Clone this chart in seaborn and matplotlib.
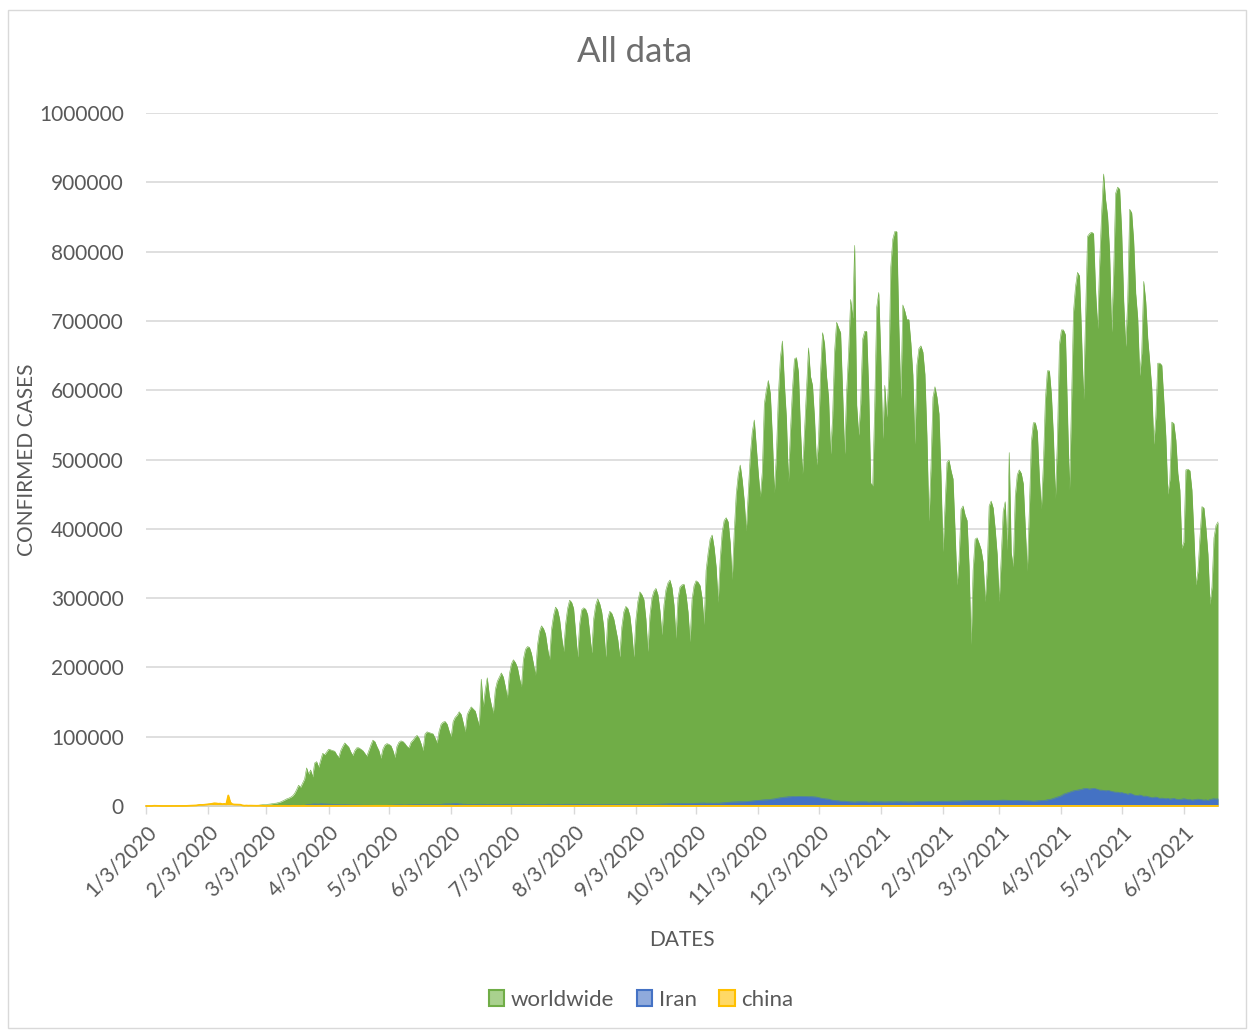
import numpy as np
import pandas as pd
import matplotlib
matplotlib.use("Agg")
import matplotlib.pyplot as plt
from matplotlib.patches import Patch, Rectangle
import seaborn as sns

# ---------------- data (daily confirmed cases, thousands) ----------------
start_date = "2020-01-03"
series_names = ["worldwide", "Iran", "china"]

worldwide_k = (
    # Jan 2020 (3..31)
    [0.5, 0.3, 0.2, 0, 0.3, 0.2, 0, 0, 0, 0.6, 0.5, 0.3, 0, 0.1, 0.1, 0.1, 0.1,
     0.1, 0.2, 0.2, 0.1, 0.3, 0.3, 0.5, 0.7, 0.8, 1.3, 1.7, 1.6]
    # Feb 2020
    + [1.8, 2.1, 2.6, 2.8, 3.2, 3.9, 3.7, 3.2, 3.4, 2.7, 3.0, 2.5, 15.2, 5.1, 2.6,
       2.1, 2.0, 1.9, 1.8, 0.9, 0.5, 0.7, 0.6, 0.7, 0.8, 0.8, 0.8, 1.0, 1.4]
    # Mar 2020
    + [1.8, 2.0, 2.3, 2.6, 2.9, 3.4, 3.9, 4.2, 5.0, 5.8, 7.2, 8.6, 10.2, 11.2, 12.6,
       14.5, 18.0, 23.5, 30.0, 27.0, 33.0, 39.0, 55.0, 46.0, 52.0, 42.0, 62.0, 64.0,
       56.0, 66.0, 76.0]
    # Apr 2020
    + [74, 78, 82, 81, 80, 79, 74, 70, 80, 86, 91, 88, 85, 78, 73, 80, 84, 84, 82, 80,
       76, 72, 80, 88, 95, 93, 86, 80, 69, 82]
    # May 2020
    + [88, 90, 89, 87, 80, 70, 86, 92, 94, 93, 90, 86, 84, 92, 95, 99, 102, 98, 90, 80,
       104, 107, 106, 105, 104, 98, 91, 108, 118, 121, 122]
    # Jun 2020
    + [118, 108, 100, 122, 128, 131, 136, 132, 120, 107, 132, 138, 143, 140, 137, 126,
       116, 183, 143, 168, 185, 160, 146, 134, 168, 180, 186, 192, 186, 172]
    # Jul 2020
    + [156, 190, 205, 211, 207, 200, 185, 172, 212, 226, 230, 229, 220, 205, 189, 232,
       252, 260, 256, 248, 228, 211, 255, 275, 287, 283, 270, 245, 223, 262, 285]
    # Aug 2020
    + [297, 294, 285, 250, 215, 262, 283, 286, 284, 276, 250, 221, 270, 290, 299, 292,
       280, 258, 215, 270, 281, 278, 270, 255, 240, 215, 258, 280, 288, 285, 275]
    # Sep 2020
    + [250, 215, 268, 295, 309, 305, 298, 270, 223, 275, 300, 310, 314, 305, 282, 247,
       290, 312, 322, 326, 315, 290, 242, 300, 316, 319, 320, 305, 280, 237]
    # Oct 2020
    + [298, 318, 325, 323, 318, 300, 262, 340, 365, 385, 391, 373, 345, 294, 355, 395,
       412, 416, 410, 380, 327, 395, 450, 478, 492, 470, 440, 397, 452, 506, 540]
    # Nov 2020
    + [557, 519, 480, 446, 482, 580, 600, 614, 595, 533, 452, 506, 593, 647, 671, 609,
       560, 468, 540, 600, 645, 647, 626, 544, 479, 540, 600, 661, 620, 607]
    # Dec 2020
    + [560, 492, 527, 625, 683, 667, 620, 590, 508, 560, 656, 698, 690, 683, 598, 508,
       598, 656, 731, 704, 809, 579, 535, 581, 674, 685, 685, 600, 466, 462, 579]
    # Jan 2021
    + [720, 741, 651, 530, 607, 561, 620, 778, 818, 829, 829, 694, 588, 723, 714, 702,
       702, 668, 622, 522, 636, 660, 664, 655, 623, 534, 411, 488, 590, 605, 590]
    # Feb 2021
    + [566, 477, 367, 433, 496, 499, 484, 472, 398, 319, 355, 428, 433, 420, 412, 346,
       233, 340, 385, 387, 379, 370, 352, 295, 341, 433, 440, 430]
    # Mar 2021
    + [400, 363, 295, 358, 425, 439, 369, 510, 366, 345, 447, 478, 485, 480, 465, 402,
       339, 426, 525, 553, 553, 540, 475, 429, 492, 586, 628, 628, 594, 534, 444]
    # Apr 2021
    + [528, 666, 687, 687, 680, 570, 456, 579, 713, 749, 770, 765, 681, 586, 704, 822,
       826, 828, 826, 745, 689, 780, 854, 912, 875, 851, 800, 684, 768, 884]
    # May 2021
    + [893, 890, 830, 730, 663, 728, 861, 856, 815, 740, 704, 621, 654, 757, 728, 675,
       640, 603, 522, 561, 639, 639, 636, 586, 534, 450, 471, 554, 552, 528, 480]
    # Jun 2021 (1..20)
    + [456, 372, 381, 485, 486, 484, 456, 391, 319, 339, 387, 432, 430, 400, 363, 291,
       316, 387, 405, 410]
)

iran_k = (
    [0, 0, 0, 0, 0, 0, 0, 0, 0, 0, 0, 0, 0, 0, 0, 0, 0, 0, 0, 0, 0, 0, 0, 0, 0, 0, 0, 0, 0]
    + [0, 0, 0, 0, 0, 0, 0, 0, 0, 0, 0, 0, 0, 0, 0, 0, 0, 0, 0, 0, 0, 0, 0, 0, 0, 0.1,
       0.1, 0.1, 0.2]
    + [0.2, 0.4, 0.5, 0.6, 0.6, 0.6, 0.7, 0.6, 0.9, 1.0, 1.1, 1.0, 1.2, 1.4, 1.2, 1.0,
       1.0, 1.2, 1.0, 1.3, 1.0, 1.0, 1.8, 2.2, 2.4, 2.9, 3.0, 2.9, 2.7, 3.2, 3.1]
    + [2.9, 2.9, 2.7, 2.6, 2.5, 2.3, 2.3, 2.1, 2.0, 2.0, 1.9, 1.8, 1.7, 1.6, 1.5, 1.6,
       1.5, 1.4, 1.3, 1.3, 1.2, 1.3, 1.2, 1.1, 1.0, 1.0, 1.0, 1.0, 1.0, 1.0]
    + [1.0, 1.0, 1.2, 1.2, 1.3, 1.5, 1.5, 1.6, 1.7, 1.6, 1.5, 1.7, 1.8, 1.7, 1.8, 2.0,
       2.1, 2.3, 2.2, 2.1, 2.1, 2.0, 2.1, 2.2, 2.1, 2.2, 2.2, 2.3, 2.4, 2.8, 3.0]
    + [3.0, 3.0, 3.1, 3.3, 3.6, 3.5, 3.0, 3.0, 2.6, 2.7, 2.4, 2.5, 2.5, 2.4, 2.5, 2.6,
       2.6, 2.6, 2.6, 2.5, 2.4, 2.5, 2.6, 2.6, 2.5, 2.6, 2.5, 2.4, 2.5, 2.5]
    + [2.6, 2.5, 2.6, 2.5, 2.6, 2.6, 2.5, 2.5, 2.6, 2.4, 2.3, 2.4, 2.4, 2.5, 2.5, 2.3,
       2.3, 2.4, 2.3, 2.4, 2.6, 2.6, 2.6, 2.5, 2.4, 2.5, 2.3, 2.4, 2.6, 2.5, 2.6]
    + [2.5, 2.6, 2.5, 2.5, 2.6, 2.4, 2.5, 2.4, 2.3, 2.4, 2.2, 2.4, 2.4, 2.2, 2.1, 2.0,
       2.0, 2.1, 2.2, 2.2, 2.0, 1.9, 1.9, 2.0, 2.0, 2.0, 1.9, 1.9, 2.0, 2.0, 2.0]
    + [2.0, 2.1, 2.0, 2.0, 2.1, 2.1, 2.1, 2.2, 2.2, 2.3, 2.3, 2.4, 2.5, 2.6, 2.7, 2.9,
       3.0, 3.0, 3.2, 3.2, 3.3, 3.4, 3.4, 3.5, 3.5, 3.6, 3.6, 3.6, 3.5, 3.6]
    + [3.7, 3.8, 3.9, 4.0, 4.2, 4.1, 4.4, 4.0, 4.2, 4.1, 4.0, 4.0, 4.2, 4.0, 4.3, 4.5,
       4.7, 5.0, 5.3, 5.6, 5.8, 5.9, 5.9, 6.0, 6.1, 6.2, 6.3, 6.4, 6.7, 7.0, 7.4]
    + [7.7, 8.0, 8.3, 8.5, 8.7, 8.9, 9.0, 9.2, 9.5, 10.0, 10.3, 11.0, 11.5, 12.0, 12.4,
       12.8, 13.0, 13.4, 13.4, 13.9, 13.6, 13.8, 14.0, 13.9, 13.8, 13.8, 13.7, 13.5,
       13.6, 13.4]
    + [13.2, 13.0, 12.2, 11.5, 11.0, 10.5, 10.2, 10.0, 9.0, 8.4, 8.0, 7.6, 7.6, 7.0,
       7.0, 7.0, 6.6, 6.3, 6.0, 6.0, 5.7, 6.1, 6.1, 6.1, 6.2, 6.1, 6.1, 5.6, 6.0, 6.1, 6.2]
    + [6.0, 6.1, 6.1, 6.0, 5.9, 6.0, 6.1, 6.0, 6.0, 6.1, 6.2, 6.1, 6.2, 6.0, 6.1, 6.0,
       5.9, 6.1, 6.0, 6.3, 6.4, 6.6, 6.3, 6.5, 6.4, 6.6, 6.7, 6.5, 6.4, 6.5, 6.7]
    + [6.8, 6.9, 7.0, 6.8, 6.9, 7.0, 7.1, 7.2, 7.0, 7.1, 7.0, 7.4, 7.5, 7.6, 7.7, 7.8,
       7.7, 7.8, 8.0, 8.0, 8.1, 7.9, 8.0, 8.1, 8.0, 8.0, 8.2, 8.1]
    + [8.0, 8.2, 8.3, 8.4, 8.5, 8.4, 8.3, 8.1, 8.0, 7.9, 8.0, 8.2, 8.0, 7.9, 7.8, 7.6,
       7.7, 7.6, 7.3, 7.0, 7.2, 7.5, 7.7, 8.0, 8.1, 8.3, 9.0, 9.5, 10.0, 11.0, 12.0]
    + [13.0, 14.0, 15.0, 17.0, 18.0, 19.0, 20.0, 21.0, 22.0, 22.5, 23.0, 23.5, 24.0,
       25.0, 25.5, 25.0, 24.5, 25.0, 25.5, 25.0, 24.0, 23.0, 23.0, 22.5, 22.0, 22.5,
       22.0, 21.0, 20.5, 20.0]
    + [20.0, 19.0, 19.5, 18.5, 18.0, 17.0, 18.0, 17.5, 16.0, 15.5, 15.0, 16.0, 15.0,
       14.0, 14.5, 13.5, 13.0, 12.0, 12.5, 13.0, 12.0, 11.0, 11.5, 11.0, 10.5, 11.0,
       10.0, 10.5, 11.0, 10.0, 9.5]
    + [9.5, 10.0, 10.5, 10.0, 9.0, 9.5, 8.5, 9.0, 9.5, 10.0, 9.5, 9.0, 8.5, 9.0, 8.0,
       9.5, 10.0, 10.5, 10.0, 10.5]
)

china_k = (
    [0, 0, 0, 0, 0.3, 0.2, 0, 0, 0, 0, 0, 0, 0, 0, 0, 0, 0,
     0.08, 0.15, 0.15, 0.1, 0.25, 0.3, 0.45, 0.7, 0.8, 1.3, 1.6, 1.5]
    + [1.7, 2.1, 2.6, 2.8, 3.2, 3.9, 3.7, 3.2, 3.4, 2.7, 3.0, 2.5, 15.2, 5.1, 2.6, 2.1,
       2.0, 1.9, 1.8, 0.9, 0.4, 0.6, 0.4, 0.5, 0.4, 0.4, 0.3, 0.4, 0.4]
    + [0.2, 0.1, 0.1, 0.1, 0.1, 0.1, 0.1, 0.05, 0.05, 0.04, 0.02, 0.03, 0.02, 0.02,
       0.03, 0.02, 0.03, 0.04, 0.05, 0.06, 0.1, 0.05, 0.08, 0.06, 0.1, 0.07, 0.1, 0.06,
       0.08, 0.05, 0.04]
    + [0.03, 0.04, 0.03, 0.03, 0.03, 0.04, 0.03, 0.06, 0.06, 0.04, 0.10, 0.05, 0.10,
       0.09, 0.05, 0.04, 0.03, 0.02, 0.03, 0.02, 0.01, 0.01, 0.02, 0.01, 0.01, 0.01,
       0.01, 0.01, 0.01, 0.01]
    + [0.01, 0.01, 0.01, 0.02, 0.01, 0.01, 0.01, 0.01, 0.01, 0.02, 0.02, 0.01, 0.01,
       0.01, 0.01, 0.01, 0.01, 0.01, 0.01, 0.01, 0.01, 0.01, 0.01, 0.01, 0.01, 0.01,
       0.01, 0.01, 0.01, 0.01, 0.01]
    + [0.01, 0.01, 0.01, 0.01, 0.01, 0.01, 0.01, 0.01, 0.01, 0.01, 0.01, 0.01, 0.04,
       0.06, 0.05, 0.04, 0.04, 0.03, 0.03, 0.03, 0.02, 0.02, 0.02, 0.02, 0.02, 0.02,
       0.02, 0.02, 0.02, 0.02]
    + [0.01, 0.01, 0.01, 0.01, 0.01, 0.01, 0.01, 0.01, 0.01, 0.01, 0.01, 0.01, 0.01,
       0.01, 0.01, 0.01, 0.01, 0.02, 0.02, 0.03, 0.02, 0.03, 0.03, 0.03, 0.04, 0.06,
       0.06, 0.07, 0.10, 0.11, 0.10]
    + [0.13, 0.10, 0.10, 0.09, 0.08, 0.07, 0.06, 0.06, 0.06, 0.05, 0.04, 0.04, 0.04,
       0.04, 0.03, 0.03, 0.03, 0.02, 0.02, 0.02, 0.02, 0.02, 0.02, 0.02, 0.02, 0.02,
       0.02, 0.02, 0.02, 0.02, 0.02]
    + [0.02, 0.02, 0.02, 0.01, 0.01, 0.01, 0.01, 0.01, 0.01, 0.01, 0.01, 0.01, 0.01,
       0.01, 0.01, 0.01, 0.01, 0.01, 0.01, 0.01, 0.01, 0.01, 0.01, 0.01, 0.01, 0.01,
       0.01, 0.01, 0.01, 0.01]
    + [0.01, 0.01, 0.01, 0.01, 0.01, 0.01, 0.01, 0.01, 0.01, 0.01, 0.01, 0.02, 0.02,
       0.01, 0.01, 0.01, 0.01, 0.01, 0.01, 0.01, 0.01, 0.01, 0.01, 0.02, 0.02, 0.04,
       0.02, 0.01, 0.01, 0.01, 0.01]
    + [0.01, 0.01, 0.01, 0.01, 0.02, 0.02, 0.02, 0.02, 0.02, 0.02, 0.01, 0.01, 0.01,
       0.01, 0.01, 0.01, 0.01, 0.01, 0.01, 0.01, 0.02, 0.02, 0.02, 0.01, 0.01, 0.01,
       0.01, 0.01, 0.01, 0.02]
    + [0.02, 0.02, 0.02, 0.02, 0.01, 0.02, 0.02, 0.02, 0.02, 0.02, 0.02, 0.02, 0.02,
       0.02, 0.02, 0.02, 0.03, 0.02, 0.02, 0.03, 0.02, 0.02, 0.02, 0.02, 0.03, 0.04,
       0.04, 0.04, 0.04, 0.03, 0.03]
    + [0.03, 0.03, 0.03, 0.03, 0.03, 0.05, 0.06, 0.07, 0.07, 0.10, 0.10, 0.12, 0.14,
       0.14, 0.14, 0.14, 0.12, 0.12, 0.11, 0.10, 0.10, 0.10, 0.09, 0.08, 0.07, 0.06,
       0.06, 0.05, 0.04, 0.03, 0.03]
    + [0.02, 0.02, 0.02, 0.02, 0.01, 0.02, 0.02, 0.01, 0.01, 0.01, 0.01, 0.01, 0.01,
       0.01, 0.01, 0.01, 0.01, 0.01, 0.01, 0.01, 0.01, 0.01, 0.01, 0.01, 0.01, 0.01,
       0.01, 0.01]
    + [0.01, 0.01, 0.01, 0.01, 0.01, 0.01, 0.01, 0.01, 0.01, 0.01, 0.01, 0.01, 0.01,
       0.01, 0.01, 0.01, 0.01, 0.01, 0.01, 0.01, 0.01, 0.01, 0.01, 0.01, 0.01, 0.01,
       0.01, 0.01, 0.01, 0.01, 0.01]
    + [0.01, 0.01, 0.02, 0.02, 0.02, 0.02, 0.02, 0.02, 0.02, 0.02, 0.02, 0.02, 0.02,
       0.02, 0.02, 0.02, 0.02, 0.02, 0.02, 0.02, 0.02, 0.02, 0.02, 0.02, 0.02, 0.02,
       0.02, 0.02, 0.02, 0.02]
    + [0.02, 0.02, 0.02, 0.02, 0.02, 0.02, 0.02, 0.02, 0.02, 0.02, 0.02, 0.02, 0.02,
       0.02, 0.02, 0.02, 0.02, 0.02, 0.02, 0.02, 0.02, 0.02, 0.02, 0.02, 0.02, 0.02,
       0.02, 0.02, 0.02, 0.02, 0.02]
    + [0.02, 0.02, 0.02, 0.02, 0.02, 0.02, 0.02, 0.02, 0.03, 0.03, 0.03, 0.03, 0.03,
       0.03, 0.03, 0.03, 0.03, 0.03, 0.03, 0.03]
)

tick_dates = ["2020-01-03", "2020-02-03", "2020-03-03", "2020-04-03", "2020-05-03",
              "2020-06-03", "2020-07-03", "2020-08-03", "2020-09-03", "2020-10-03",
              "2020-11-03", "2020-12-03", "2021-01-03", "2021-02-03", "2021-03-03",
              "2021-04-03", "2021-05-03", "2021-06-03"]
tick_labels = ["1/3/2020", "2/3/2020", "3/3/2020", "4/3/2020", "5/3/2020", "6/3/2020",
               "7/3/2020", "8/3/2020", "9/3/2020", "10/3/2020", "11/3/2020", "12/3/2020",
               "1/3/2021", "2/3/2021", "3/3/2021", "4/3/2021", "5/3/2021", "6/3/2021"]
y_ticks = [0, 100000, 200000, 300000, 400000, 500000, 600000, 700000, 800000, 900000,
           1000000]

# ---------------- build table ----------------
n = len(worldwide_k)
assert len(iran_k) == n and len(china_k) == n, (n, len(iran_k), len(china_k))
dates = pd.date_range(start_date, periods=n, freq="D")
df = pd.DataFrame({
    "date": dates,
    "worldwide": np.array(worldwide_k, dtype=float) * 1000,
    "Iran": np.array(iran_k, dtype=float) * 1000,
    "china": np.array(china_k, dtype=float) * 1000,
})

# ---------------- style ----------------
sns.set_theme(style="white")
plt.rcParams["font.family"] = ["Lato", "DejaVu Sans"]
GRAY = "#595959"
colors = {"worldwide": "#70AD47", "Iran": "#4472C4", "china": "#FFC000"}
light = {"worldwide": "#A9D18E", "Iran": "#8FAADC", "china": "#FFD966"}

W, H = 1254, 1031
fig = plt.figure(figsize=(W / 100, H / 100), dpi=100)
fig.patch.set_facecolor("white")

ax_l, ax_r, ax_t, ax_b = 146, 1218, 113, 806
ax = fig.add_axes([ax_l / W, 1 - ax_b / H, (ax_r - ax_l) / W, (ax_b - ax_t) / H])
ax.set_facecolor("white")

line_w = {"worldwide": 0.4, "Iran": 0.4, "china": 1.3}
for name in series_names:
    ax.fill_between(df["date"], 0, df[name], color=colors[name], linewidth=0, zorder=3)
    sns.lineplot(data=df, x="date", y=name, ax=ax, color=colors[name],
                 linewidth=line_w[name], legend=False,
                 zorder=5 if name == "china" else 3)
for ln in ax.lines:
    ln.set_clip_on(False)

ax.set_xlim(dates[0], dates[-1])
ax.set_ylim(0, 1000000)
ax.set_yticks(y_ticks)
ax.set_yticklabels([str(v) for v in y_ticks])
ax.set_xticks(pd.to_datetime(tick_dates))
ax.set_xticklabels(tick_labels, rotation=45, ha="right", rotation_mode="anchor")

ax.grid(axis="y", color="#D9D9D9", linewidth=1.2, zorder=0)
ax.grid(axis="x", visible=False)
for s in ["left", "right", "top"]:
    ax.spines[s].set_visible(False)
ax.spines["bottom"].set_color("#D9D9D9")
ax.spines["bottom"].set_linewidth(1.2)
ax.spines["bottom"].set_zorder(4)

ax.tick_params(axis="y", length=0, pad=16, labelsize=15, labelcolor=GRAY)
ax.tick_params(axis="x", length=6, width=1.0, color="#D9D9D9", direction="out",
               pad=5, labelsize=15, labelcolor=GRAY, bottom=True)
ax.set_xlabel("")
ax.set_ylabel("")

fig.text(635 / W, 1 - 52 / H, "All data", ha="center", va="center",
         fontsize=25, color="#6E6E6E")
fig.text(27 / W, 1 - 460 / H, "CONFIRMED CASES", rotation=90, ha="center",
         va="center", fontsize=15, color=GRAY)
fig.text(682 / W, 1 - 940 / H, "DATES", ha="center", va="center", fontsize=15,
         color=GRAY)

handles = [Patch(facecolor=light[nm], edgecolor=colors[nm], linewidth=1.5, label=nm)
           for nm in series_names]
fig.legend(handles=handles, loc="center", bbox_to_anchor=(641 / W, 1 - 1000 / H),
           ncol=3, frameon=False, fontsize=16, labelcolor=GRAY, handlelength=0.7,
           handleheight=0.7, handletextpad=0.3, columnspacing=1.0)

border = Rectangle((8 / W, 3 / H), (1246 - 8) / W, (1021 - 3) / H,
                   transform=fig.transFigure, fill=False, edgecolor="#D9D9D9",
                   linewidth=1.0)
fig.patches.append(border)

fig.savefig("out.png", dpi=100, facecolor="white")
